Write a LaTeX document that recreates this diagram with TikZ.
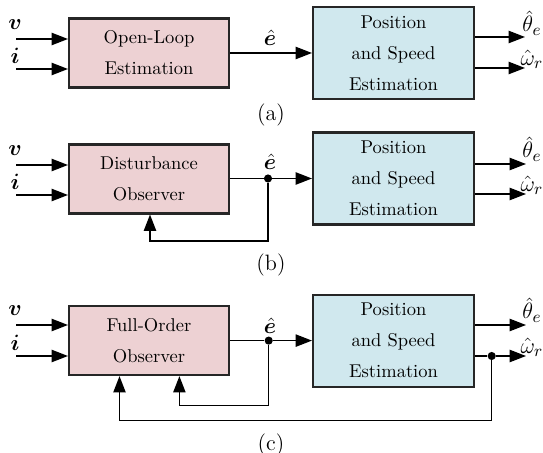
\documentclass[tikz,border=0pt]{standalone}
\usepackage{amsmath,bm}
\usetikzlibrary{arrows.meta}
\definecolor{estpink}{RGB}{237,209,211}
\definecolor{estblue}{RGB}{208,232,238}
\tikzset{
  pinkbox/.style={draw=black!85, line width=1.1pt, fill=estpink, minimum width=160*0.54pt,
    minimum height=69*0.54pt, inner sep=0pt, align=center, font=\fontsize{10}{16.7}\selectfont},
  bluebox/.style={draw=black!85, line width=1.1pt, fill=estblue, minimum width=161*0.54pt,
    minimum height=92*0.54pt, inner sep=0pt, align=center, font=\fontsize{10}{16.7}\selectfont},
  sig/.style={line width=0.85pt, -{Triangle[length=8.8pt,width=6.6pt]}},
  wire/.style={line width=0.85pt},
  junction/.style={circle, fill=black, inner sep=0pt, minimum size=4.4pt},
  mlabel/.style={inner sep=0pt, font=\fontsize{13}{15}\selectfont},
  caption/.style={inner sep=0pt, font=\fontsize{12}{14}\selectfont}
}
\begin{document}
\begin{tikzpicture}[x=0.54pt, y=-0.54pt]
\useasboundingbox (0,0) rectangle (543,453);

% ---------- (a) open-loop estimation ----------
\node[pinkbox] (olA) at (149,53) {Open-Loop\\Estimation};
\node[bluebox] (psA) at (393.5,53) {Position\\and Speed\\Estimation};
\coordinate (vA) at (16,39);
\coordinate (iA) at (16,69);
\draw[sig] (vA) -- (vA -| olA.west);
\draw[sig] (iA) -- (iA -| olA.west);
\node[mlabel] (vlA) at (15,25) {$\bm{v}$};
\node[mlabel] (ilA) at (15,56) {$\bm{i}$};
\draw[sig] (olA.east) -- (psA.west);
\node[mlabel] (elA) at (270,38) {$\hat{\bm{e}}$};
\coordinate (thA) at (525,37);
\coordinate (wrA) at (525,68);
\draw[sig] (thA -| psA.east) -- (thA);
\draw[sig] (wrA -| psA.east) -- (wrA);
\node[mlabel] (thlA) at (532,23) {$\hat{\theta}_e$};
\node[mlabel] (wrlA) at (532,59) {$\hat{\omega}_r$};
\node[caption] (capA) at (271,115) {(a)};

% ---------- (b) disturbance observer ----------
\node[pinkbox] (doB) at (149,179) {Disturbance\\Observer};
\node[bluebox] (psB) at (393.5,178.5) {Position\\and Speed\\Estimation};
\coordinate (vB) at (16,165);
\coordinate (iB) at (16,195);
\draw[sig] (vB) -- (vB -| doB.west);
\draw[sig] (iB) -- (iB -| doB.west);
\node[mlabel] (vlB) at (15,151) {$\bm{v}$};
\node[mlabel] (ilB) at (15,182) {$\bm{i}$};
\node[junction] (jB) at (268,178.5) {};
\draw[wire] (jB -| doB.east) -- (jB);
\draw[sig] (jB) -- (jB -| psB.west);
\node[mlabel] (elB) at (270,162) {$\hat{\bm{e}}$};
\coordinate (fbB) at (150,241);
\draw[sig] (jB) |- (fbB) -- (fbB |- doB.south);
\coordinate (thB) at (526,164);
\coordinate (wrB) at (526,194);
\draw[sig] (thB -| psB.east) -- (thB);
\draw[sig] (wrB -| psB.east) -- (wrB);
\node[mlabel] (thlB) at (532,149) {$\hat{\theta}_e$};
\node[mlabel] (wrlB) at (532,185) {$\hat{\omega}_r$};
\node[caption] (capB) at (271,265) {(b)};

% ---------- (c) full-order observer ----------
\node[pinkbox] (foC) at (149,340.6) {Full-Order\\Observer};
\node[bluebox] (psC) at (393.5,340.7) {Position\\and Speed\\Estimation};
\coordinate (vC) at (16,325);
\coordinate (iC) at (16,356);
\draw[sig] (vC) -- (vC -| foC.west);
\draw[sig] (iC) -- (iC -| foC.west);
\node[mlabel] (vlC) at (15,311) {$\bm{v}$};
\node[mlabel] (ilC) at (15,343) {$\bm{i}$};
\node[junction] (jC) at (268.7,340.6) {};
\draw[wire] (foC.east) -- (jC);
\draw[sig] (jC) -- (jC -| psC.west);
\node[mlabel] (elC) at (270,326) {$\hat{\bm{e}}$};
\coordinate (fbC) at (179.4,405.7);
\draw[sig] (jC) |- (fbC) -- (fbC |- foC.south);
\coordinate (thC) at (526,325);
\coordinate (wrC) at (526,356);
\draw[sig] (thC -| psC.east) -- (thC);
\node[junction] (jW) at (491.7,356) {};
\draw[wire] (wrC -| psC.east) -- (jW);
\draw[sig] (jW) -- (wrC);
\coordinate (fbW) at (119.5,420.6);
\draw[sig] (jW) |- (fbW) -- (fbW |- foC.south);
\node[mlabel] (thlC) at (532,310) {$\hat{\theta}_e$};
\node[mlabel] (wrlC) at (532,347) {$\hat{\omega}_r$};
\node[caption] (capC) at (271,445) {(c)};
\end{tikzpicture}
\end{document}
